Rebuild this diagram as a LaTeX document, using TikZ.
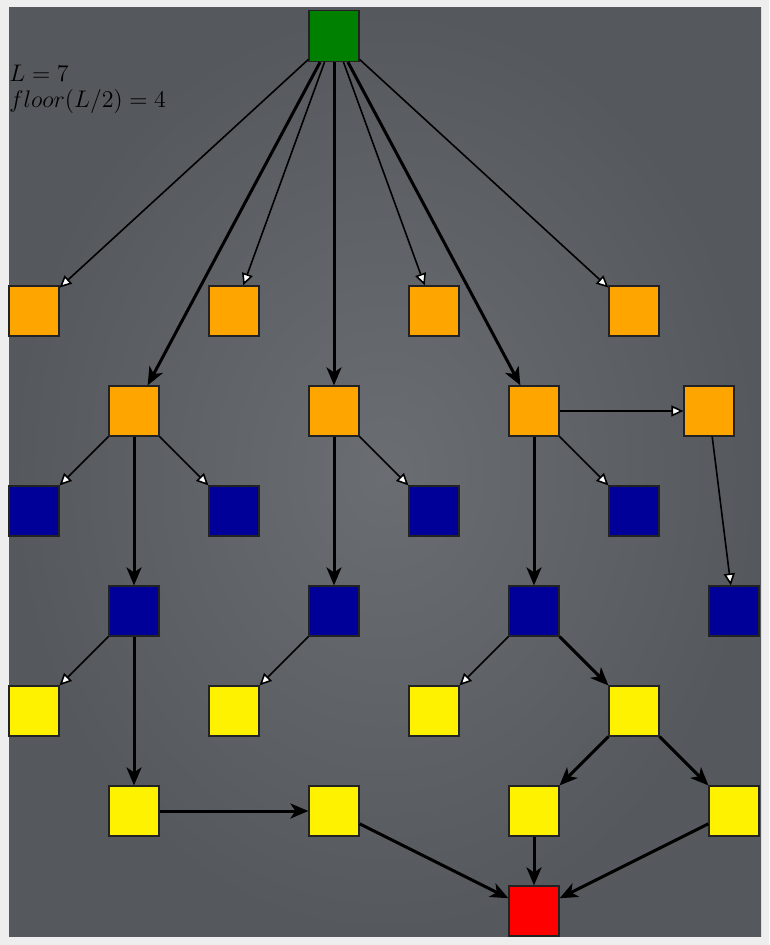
\documentclass[tikz,border=0pt]{standalone}
\usetikzlibrary{arrows.meta}
\definecolor{pagebg}{HTML}{EEEEEE}
\definecolor{bginner}{HTML}{6A6E73}
\definecolor{bgouter}{HTML}{55585C}
\definecolor{boxline}{HTML}{222222}
\definecolor{navyblue}{HTML}{000099}
\definecolor{orangebox}{HTML}{FFA500}
\definecolor{greenbox}{HTML}{008000}
\begin{document}
\begin{tikzpicture}[x=0.5pt,y=-0.5pt,
    sq/.style={draw=boxline, line width=0.6pt, minimum size=25pt, inner sep=0pt},
    thinedge/.style={draw=black, line width=0.8pt, -{Triangle[length=6pt,width=5.5pt,fill=white]}},
    thickedge/.style={draw=black, line width=1.5pt, -{Stealth[length=9pt,width=7.5pt,inset=2.5pt]}},
    note/.style={anchor=base west, inner sep=0pt, font=\fontsize{12}{12}\selectfont}]
    % Background
    \fill[pagebg] (0,0) rectangle (769,945);
    \shade[inner color=bginner, outer color=bgouter] (9,8) rectangle (761,936);
    \useasboundingbox (0,0) rectangle (769,945);

    % Labels
    \node[note] (len) at (9,82) {$L = 7$};
    \node[note] (half) at (9,108) {$floor(L/2) = 4$};

    % Root
    \node[sq, fill=greenbox, minimum height=25.5pt] (g) at (334,36) {};
    % Orange rows
    \node[sq, fill=orangebox] (o1) at (34,311) {}; \node[sq, fill=orangebox] (o2) at (234,311) {};
    \node[sq, fill=orangebox] (o3) at (434,311) {}; \node[sq, fill=orangebox] (o4) at (634,311) {};
    \node[sq, fill=orangebox] (p1) at (134,411) {}; \node[sq, fill=orangebox] (p2) at (334,411) {};
    \node[sq, fill=orangebox] (p3) at (534,411) {}; \node[sq, fill=orangebox] (p4) at (709,411) {};
    % Blue rows
    \node[sq, fill=navyblue] (b1) at (34,511) {}; \node[sq, fill=navyblue] (b2) at (234,511) {};
    \node[sq, fill=navyblue] (b3) at (434,511) {}; \node[sq, fill=navyblue] (b4) at (634,511) {};
    \node[sq, fill=navyblue] (c1) at (134,611) {}; \node[sq, fill=navyblue] (c2) at (334,611) {};
    \node[sq, fill=navyblue] (c3) at (534,611) {}; \node[sq, fill=navyblue] (c4) at (734,611) {};
    % Yellow rows
    \node[sq, fill=yellow] (y1) at (34,711) {}; \node[sq, fill=yellow] (y2) at (234,711) {};
    \node[sq, fill=yellow] (y3) at (434,711) {}; \node[sq, fill=yellow] (y4) at (634,711) {};
    \node[sq, fill=yellow] (z1) at (134,811) {}; \node[sq, fill=yellow] (z2) at (334,811) {};
    \node[sq, fill=yellow] (z3) at (534,811) {}; \node[sq, fill=yellow] (z4) at (734,811) {};
    % Sink
    \node[sq, fill=red] (r) at (534,911) {};

    % Edges
    \foreach \a/\b in {g/o1,g/o2,g/o3,g/o4,p1/b1,p1/b2,p2/b3,p3/b4,p3/p4,p4/c4,c1/y1,c2/y2,c3/y3}
        \draw[thinedge] (\a) -- (\b);
    \foreach \a/\b in {g/p1,g/p2,g/p3,p1/c1,p2/c2,p3/c3,c1/z1,c3/y4,y4/z3,y4/z4,z1/z2,z2/r,z3/r,z4/r}
        \draw[thickedge] (\a) -- (\b);
\end{tikzpicture}
\end{document}
